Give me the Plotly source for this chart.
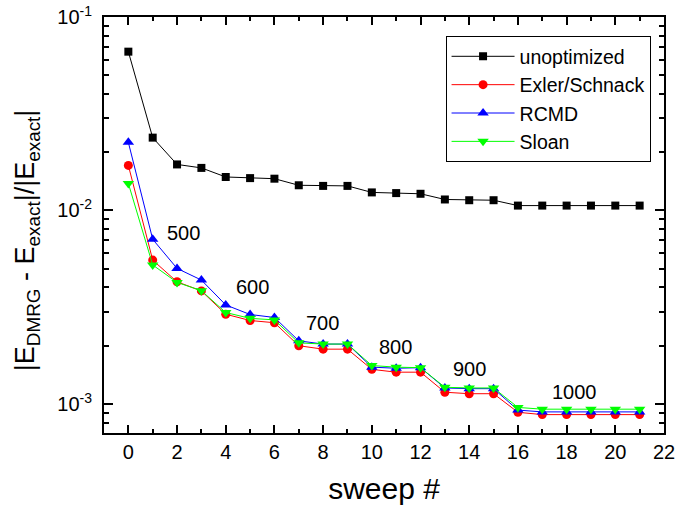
import plotly.graph_objects as go

sweeps = list(range(22))

unoptimized = [0.0662, 0.0238, 0.0173, 0.0166, 0.0149, 0.0147, 0.0146, 0.0135, 0.0134, 0.0134,
               0.0124, 0.0123, 0.0122, 0.0114, 0.0113, 0.0113, 0.0106, 0.0106, 0.0106, 0.0106,
               0.0106, 0.0106]
exler_schnack = [0.0171, 0.00554, 0.00428, 0.00384, 0.00291, 0.00270, 0.00263, 0.00200, 0.00192, 0.00192,
                 0.00151, 0.00146, 0.00146, 0.00115, 0.00113, 0.00113, 0.000906, 0.000881, 0.000881, 0.000881,
                 0.000881, 0.000881]
rcmd = [0.0225, 0.00710, 0.00502, 0.00437, 0.00325, 0.00290, 0.00280, 0.00212, 0.00204, 0.00204,
        0.00155, 0.00153, 0.00154, 0.00121, 0.00120, 0.00120, 0.000930, 0.000910, 0.000910, 0.000910,
        0.000910, 0.000910]
sloan = [0.0138, 0.00523, 0.00425, 0.00385, 0.00297, 0.00277, 0.00272, 0.00207, 0.00204, 0.00204,
         0.00158, 0.00155, 0.00154, 0.00122, 0.00121, 0.00121, 0.000960, 0.000940, 0.000940, 0.000940,
         0.000940, 0.000940]

bond_labels = ["500", "600", "700", "800", "900", "1000"]
bond_x = [2.26, 5.10, 7.97, 10.97, 14.02, 18.33]
bond_logy = [-2.116, -2.395, -2.581, -2.705, -2.819, -2.938]

x_ticks = list(range(0, 23, 2))
y_major = [0.001, 0.01, 0.1]
y_major_text = ["10<sup>-3</sup>", "10<sup>-2</sup>", "10<sup>-1</sup>"]
y_minor = [m * d for d in (0.0001, 0.001, 0.01) for m in range(2, 10)]

x_title = "sweep #"
y_title = "|E<sub>DMRG</sub> - E<sub>exact</sub>|/|E<sub>exact</sub>|"

FONT = "Arial, Liberation Sans, sans-serif"

series = [
    ("unoptimized", unoptimized, "black", "square", 8),
    ("Exler/Schnack", exler_schnack, "red", "circle", 9),
    ("RCMD", rcmd, "blue", "triangle-up", 10),
    ("Sloan", sloan, "#00ff00", "triangle-down", 10),
]

fig = go.Figure()
for name, vals, color, sym, sz in series:
    fig.add_trace(go.Scatter(
        x=sweeps, y=vals, name=name, mode="lines+markers",
        line=dict(color=color, width=1),
        marker=dict(color=color, symbol=sym, size=sz, line=dict(width=0)),
    ))

for lab, bx, by in zip(bond_labels, bond_x, bond_logy):
    fig.add_annotation(x=bx, y=by, xref="x", yref="y", text=lab, showarrow=False,
                       font=dict(size=20, color="black", family=FONT))

# y-axis title as rotated annotation for exact placement
fig.add_annotation(x=-0.137, y=0.464, xref="paper", yref="paper", text=y_title,
                   textangle=-90, showarrow=False, xanchor="center", yanchor="middle",
                   font=dict(size=27, color="black", family=FONT))

fig.update_layout(
    width=678, height=508,
    margin=dict(l=104, r=14, t=17, b=75),
    paper_bgcolor="white", plot_bgcolor="white",
    font=dict(family=FONT, color="black"),
    showlegend=True,
    legend=dict(
        x=0.976, y=0.954, xanchor="right", yanchor="top",
        bordercolor="black", borderwidth=1, bgcolor="white",
        font=dict(size=19.5, family=FONT), itemwidth=63,
        tracegroupgap=0,
    ),
)

fig.update_xaxes(
    range=[-1, 22], tickmode="array", tickvals=x_ticks, automargin=False,
    ticks="inside", ticklen=8, tickwidth=1.5, tickcolor="black",
    showline=True, linecolor="black", linewidth=2, mirror="ticks",
    showgrid=False, zeroline=False, ticklabeloverflow="allow",
    tickfont=dict(size=20, family=FONT),
    minor=dict(dtick=1, tick0=0, ticks="inside", ticklen=4, tickwidth=1.5, tickcolor="black", showgrid=False),
    title=dict(text=x_title, font=dict(size=30, family=FONT), standoff=16),
)

fig.update_yaxes(
    type="log", range=[-3.15, -1], automargin=False,
    tickmode="array", tickvals=y_major, ticktext=y_major_text,
    ticks="inside", ticklen=9, tickwidth=1.5, tickcolor="black",
    showline=True, linecolor="black", linewidth=2, mirror="ticks",
    showgrid=False, zeroline=False, ticklabelstandoff=6, ticklabeloverflow="allow",
    tickfont=dict(size=20, family=FONT),
    minor=dict(tickmode="array", tickvals=y_minor, ticks="inside", ticklen=5, tickwidth=1.5,
               tickcolor="black", showgrid=False),
)

# remove the browser's default 8px body margin so the figure fills the window exactly
fig.write_html("out.html", config={"displayModeBar": False},
               post_script="document.body.style.margin='0px';")
